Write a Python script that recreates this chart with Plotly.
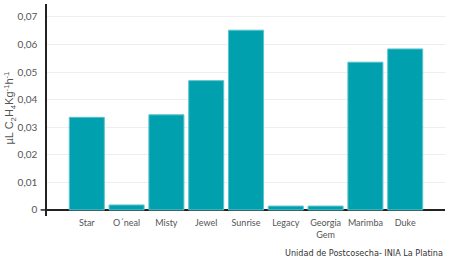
import plotly.graph_objects as go

categories = ["Star", "O´neal", "Misty", "Jewel", "Sunrise", "Legacy", "Georgia<br>Gem", "Marimba", "Duke"]
values = [0.0336, 0.0018, 0.0345, 0.0469, 0.0652, 0.0014, 0.0014, 0.0536, 0.0584]
yticks = [0, 0.01, 0.02, 0.03, 0.04, 0.05, 0.06, 0.07]

fig = go.Figure()
fig.add_trace(go.Bar(
    x=list(range(len(categories))), y=values,
    marker=dict(color="#00a0ae", line=dict(color="#5cc3cc", width=1)),
    width=0.88,
))

font_fam = "Lato, 'Open Sans', sans-serif"
fig.update_layout(
    width=450, height=264,
    margin=dict(l=47, r=5, t=4, b=48),
    paper_bgcolor="white", plot_bgcolor="white",
    separators=",.",
    showlegend=False,
    font=dict(family=font_fam, size=9, color="#444"),
    xaxis=dict(
        range=[-1, 9],
        tickmode="array", tickvals=list(range(len(categories))), ticktext=categories,
        showgrid=False, showline=False, zeroline=False, ticks="",
        tickfont=dict(size=9, color="#555"),
    ),
    yaxis=dict(
        range=[-0.0022, 0.0747],
        tickmode="array", tickvals=yticks,
        ticktext=[("0" if v == 0 else f"{v:.2f}".replace(".", ",")) for v in yticks],
        showgrid=True, gridcolor="#eeeeee", gridwidth=1,
        zeroline=True, zerolinecolor="#222", zerolinewidth=1.5,
        showline=True, linecolor="#222", linewidth=1.5,
        ticks="", ticklabelstandoff=6,
        tickfont=dict(size=10, color="#555"),
    ),
)

fig.add_shape(type="line", xref="paper", yref="y", x0=-0.016, x1=0, y0=0, y1=0,
              line=dict(color="#222", width=1.5))

fig.add_annotation(
    text="µL C<sub>2</sub>H<sub>4</sub>Kg<sup>-1</sup>h<sup>-1</sup>",
    xref="paper", yref="paper", x=-0.094, y=0.51, textangle=-90,
    showarrow=False, font=dict(family="'Liberation Sans', Arial, sans-serif", size=11, color="#555"),
    xanchor="center", yanchor="middle",
)
fig.add_annotation(
    text="Unidad de Postcosecha- INIA La Platina",
    xref="paper", yref="paper", x=1.0, y=-0.175, xanchor="right", yanchor="middle",
    showarrow=False, font=dict(family="'DejaVu Sans Condensed', 'Liberation Sans Narrow', sans-serif", size=9, color="#333"),
)

fig.write_html("out.html")
